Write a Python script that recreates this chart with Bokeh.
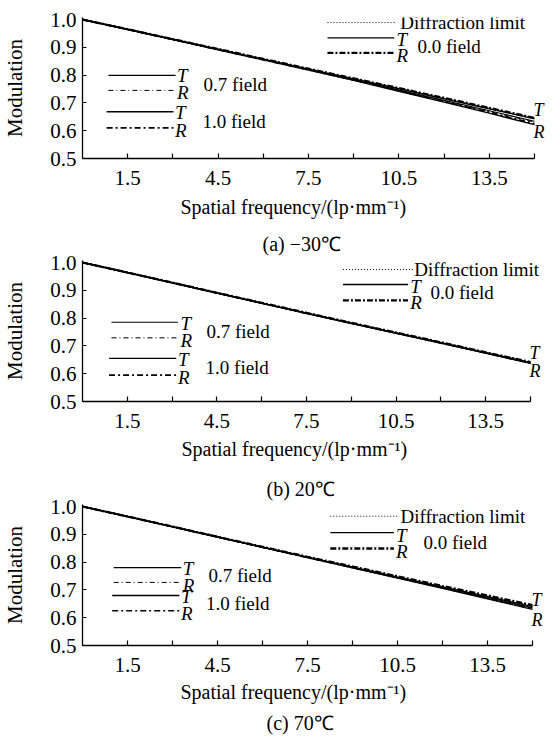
from bokeh.plotting import figure
from bokeh.layouts import column
from bokeh.models import FixedTicker, PrintfTickFormatter, Label, Range1d, Title
from bokeh.embed import file_html
from bokeh.resources import INLINE

# ---------------- data ----------------
freq = [0, 1.5, 3.0, 4.5, 6.0, 7.5, 9.0, 10.5, 12.0, 13.5, 15.0]

x_tick_labeled = [1.5, 4.5, 7.5, 10.5, 13.5]
x_tick_unlabeled = [3.0, 6.0, 9.0, 12.0, 15.0]
y_ticks = [0.5, 0.6, 0.7, 0.8, 0.9, 1.0]

x_title = "Spatial frequency/(lp\u00b7mm\u207b\u00b9)"
y_title = "Modulation"
captions = ["(a) \u221230\u2103", "(b) 20\u2103", "(c) 70\u2103"]

# (a) -30 C
diff_a = [1.000, 0.965, 0.929, 0.893, 0.858, 0.822, 0.787, 0.752, 0.717, 0.681, 0.645]
t00_a = [1.000, 0.965, 0.929, 0.893, 0.857, 0.821, 0.786, 0.751, 0.715, 0.679, 0.643]
r00_a = [1.000, 0.965, 0.929, 0.894, 0.858, 0.823, 0.788, 0.753, 0.718, 0.682, 0.646]
t07_a = [1.000, 0.964, 0.928, 0.892, 0.856, 0.820, 0.784, 0.746, 0.709, 0.672, 0.634]
r07_a = [1.000, 0.964, 0.928, 0.892, 0.856, 0.820, 0.783, 0.745, 0.707, 0.669, 0.631]
t10_a = [1.000, 0.964, 0.928, 0.891, 0.855, 0.818, 0.781, 0.742, 0.703, 0.663, 0.622]
r10_a = [1.000, 0.964, 0.928, 0.891, 0.855, 0.819, 0.782, 0.744, 0.705, 0.666, 0.626]

# (b) 20 C
diff_b = [1.000, 0.964, 0.928, 0.891, 0.855, 0.818, 0.783, 0.748, 0.713, 0.677, 0.641]
t00_b = [1.000, 0.964, 0.927, 0.891, 0.854, 0.818, 0.782, 0.747, 0.712, 0.676, 0.640]
r00_b = [1.000, 0.964, 0.928, 0.891, 0.855, 0.819, 0.783, 0.748, 0.713, 0.677, 0.642]
t07_b = [1.000, 0.964, 0.927, 0.890, 0.854, 0.817, 0.781, 0.746, 0.711, 0.675, 0.639]
r07_b = [1.000, 0.964, 0.927, 0.890, 0.854, 0.817, 0.782, 0.746, 0.711, 0.675, 0.638]
t10_b = [1.000, 0.964, 0.927, 0.890, 0.853, 0.817, 0.781, 0.745, 0.710, 0.674, 0.637]
r10_b = [1.000, 0.964, 0.927, 0.890, 0.854, 0.817, 0.781, 0.746, 0.710, 0.674, 0.638]

# (c) 70 C
diff_c = [1.000, 0.964, 0.928, 0.891, 0.855, 0.818, 0.783, 0.748, 0.713, 0.678, 0.643]
t00_c = [1.000, 0.964, 0.927, 0.891, 0.854, 0.818, 0.782, 0.746, 0.711, 0.676, 0.640]
r00_c = [1.000, 0.964, 0.928, 0.891, 0.855, 0.819, 0.784, 0.749, 0.714, 0.680, 0.645]
t07_c = [1.000, 0.964, 0.927, 0.890, 0.854, 0.817, 0.781, 0.745, 0.709, 0.673, 0.636]
r07_c = [1.000, 0.964, 0.927, 0.890, 0.853, 0.817, 0.780, 0.744, 0.708, 0.671, 0.634]
t10_c = [1.000, 0.964, 0.927, 0.890, 0.853, 0.816, 0.779, 0.743, 0.706, 0.668, 0.630]
r10_c = [1.000, 0.964, 0.927, 0.890, 0.853, 0.816, 0.780, 0.744, 0.707, 0.670, 0.632]

series = [
    dict(diff=diff_a, t00=t00_a, r00=r00_a, t07=t07_a, r07=r07_a, t10=t10_a, r10=r10_a),
    dict(diff=diff_b, t00=t00_b, r00=r00_b, t07=t07_b, r07=r07_b, t10=t10_b, r10=r10_b),
    dict(diff=diff_c, t00=t00_c, r00=r00_c, t07=t07_c, r07=r07_c, t10=t10_c, r10=r10_c),
]

# ---------------- styles ----------------
FONT = "Liberation Serif"
STY = {
    "diff": dict(line_width=1.0, line_dash="1 2"),
    "t00": dict(line_width=1.4, line_dash="solid"),
    "r00": dict(line_width=2.3, line_dash="6 2 2 2"),
    "t07": dict(line_width=1.1, line_dash="solid"),
    "r07": dict(line_width=1.0, line_dash="5 3 1 3"),
    "t10": dict(line_width=1.4, line_dash="solid"),
    "r10": dict(line_width=1.6, line_dash="6 3 2 3"),
}
DRAW_ORDER = ["t10", "r10", "t07", "r07", "t00", "diff", "r00"]

# layout per panel: frame geometry & legend placement (data units)
# Each panel's caption sits directly under its x-axis title; the captions of
# panels (a) and (b) are carried at the top of the following figure so that the
# stacked figures can sit as close together as in the original.
PANELS = [
    dict(left=73, fw=464, xend=15.40, top=17, fh=141, bottom=66,
         rl=dict(x0=8.13, x1=10.35, xd1=10.42, yd=0.989, yt=0.934, yr=0.880,
                 xtxt=10.55, xlab=10.42, ytl=0.928, yrl=0.871, xf=11.12, yf=0.904),
         ll=[dict(x0=0.86, x1=3.09, yt=0.799, yr=0.745, xlab=3.14, ytl=0.800, yrl=0.737,
                  xf=4.02, yf=0.766, txt="0.7 field", rs="r07", ts="t07"),
             dict(x0=0.80, x1=3.02, yt=0.668, yr=0.610, xlab=3.07, ytl=0.667, yrl=0.601,
                  xf=3.98, yf=0.634, txt="1.0 field", rs="r10", ts="t10")],
         tr=dict(x=14.97, yt=0.676, yr=0.594),
         xl=dict(off=98, so=12), cap=dict(off=180, so=12)),
    dict(left=73, fw=464, xend=15.536, top=36, fh=141, bottom=64,
         rl=dict(x0=8.72, x1=10.90, xd1=11.07, yd=0.975, yt=0.921, yr=0.864,
                 xtxt=11.11, xlab=10.97, ytl=0.912, yrl=0.856, xf=11.65, yf=0.892),
         ll=[dict(x0=0.97, x1=3.20, yt=0.785, yr=0.729, xlab=3.28, ytl=0.780, yrl=0.720,
                  xf=4.15, yf=0.753, txt="0.7 field", rs="r07", ts="t07"),
             dict(x0=0.89, x1=3.14, yt=0.655, yr=0.595, xlab=3.2, ytl=0.652, yrl=0.587,
                  xf=4.12, yf=0.621, txt="1.0 field", rs="r10", ts="t10")],
         tr=dict(x=14.97, yt=0.676, yr=0.609),
         xl=dict(off=99, so=10), cap=dict(off=184, so=9)),
    dict(left=74, fw=463, xend=15.433, top=39, fh=141, bottom=91,
         rl=dict(x0=8.26, x1=10.38, xd1=10.49, yd=0.965, yt=0.906, yr=0.849,
                 xtxt=10.6, xlab=10.45, ytl=0.897, yrl=0.838, xf=11.37, yf=0.872),
         ll=[dict(x0=1.04, x1=3.29, yt=0.780, yr=0.727, xlab=3.34, ytl=0.776, yrl=0.716,
                  xf=4.2, yf=0.753, txt="0.7 field", rs="r07", ts="t07"),
             dict(x0=0.99, x1=3.23, yt=0.680, yr=0.625, xlab=3.28, ytl=0.676, yrl=0.614,
                  xf=4.12, yf=0.652, txt="1.0 field", rs="r10", ts="t10")],
         tr=dict(x=14.97, yt=0.665, yr=0.590),
         xl=dict(off=98, so=9), cap=dict(off=184, so=5)),
]


def lbl(p, x, y, text, size="19px", style="normal", align="left"):
    p.add_layout(Label(x=x, y=y, text=text, text_font=FONT, text_font_size=size,
                       text_font_style=style, text_baseline="middle", text_align=align,
                       text_color="black"))


def seg(p, x0, x1, y, key):
    p.line([x0, x1], [y, y], line_color="black", **STY[key])


def title(text, off, so):
    return Title(text=text, align="left", offset=off, standoff=so, text_font=FONT,
                 text_font_size="20px", text_font_style="normal", text_color="black")


figs = []
for i, (cfg, data) in enumerate(zip(PANELS, series)):
    p = figure(frame_width=cfg["fw"], frame_height=cfg["fh"],
               min_border_left=cfg["left"], min_border_right=0,
               min_border_top=cfg["top"], min_border_bottom=cfg["bottom"],
               x_range=Range1d(0, cfg["xend"]), y_range=Range1d(0.5, 1.0072),
               output_backend="svg", toolbar_location=None)
    p.outline_line_color = None
    p.grid.visible = False
    p.background_fill_color = "white"
    p.border_fill_color = "white"

    for key in DRAW_ORDER:
        p.line(freq, data[key], line_color="black", **STY[key])

    # axes
    xa = p.xaxis[0]
    xa.ticker = FixedTicker(ticks=x_tick_labeled, minor_ticks=x_tick_unlabeled)
    xa.formatter = PrintfTickFormatter(format="%.1f")
    xa.bounds = (0, 15)
    xa.major_tick_in = 5
    xa.major_tick_out = 0
    xa.minor_tick_in = 5
    xa.minor_tick_out = 0
    xa.axis_line_width = 1.3
    xa.axis_line_color = "black"
    xa.major_tick_line_width = 1.2
    xa.minor_tick_line_width = 1.2
    xa.major_tick_line_color = "black"
    xa.minor_tick_line_color = "black"
    xa.major_label_text_font = FONT
    xa.major_label_text_font_size = "21px"
    xa.major_label_text_color = "black"
    xa.major_label_standoff = 12

    ya = p.yaxis[0]
    ya.ticker = FixedTicker(ticks=y_ticks)
    ya.formatter = PrintfTickFormatter(format="%.1f")
    ya.major_tick_in = 4
    ya.major_tick_out = 0
    ya.minor_tick_line_color = None
    ya.axis_line_width = 1.3
    ya.axis_line_color = "black"
    ya.major_tick_line_color = "black"
    ya.major_label_text_font = FONT
    ya.major_label_text_font_size = "21px"
    ya.major_label_text_color = "black"
    ya.major_label_standoff = 6
    ya.axis_label = y_title
    ya.axis_label_text_font = FONT
    ya.axis_label_text_font_size = "21px"
    ya.axis_label_text_font_style = "normal"
    ya.axis_label_text_color = "black"
    ya.axis_label_standoff = 20

    # x-axis title below the frame
    p.add_layout(title(x_title, cfg["xl"]["off"], cfg["xl"]["so"]), "below")
    # caption of the previous panel carried on top of this figure
    if i > 0:
        prev = PANELS[i - 1]["cap"]
        p.add_layout(title(captions[i - 1], prev["off"], prev["so"]), "above")
    # the last panel holds its own caption below
    if i == len(PANELS) - 1:
        p.add_layout(title(captions[i], cfg["cap"]["off"], cfg["cap"]["so"]), "below")

    # right legend (diffraction + 0.0 field)
    rl = cfg["rl"]
    seg(p, rl["x0"], rl["xd1"], rl["yd"], "diff")
    seg(p, rl["x0"], rl["x1"], rl["yt"], "t00")
    seg(p, rl["x0"], rl["x1"], rl["yr"], "r00")
    lbl(p, rl["xtxt"], rl["yd"], "Diffraction limit")
    lbl(p, rl["xlab"], rl["ytl"], "T", style="italic")
    lbl(p, rl["xlab"], rl["yrl"], "R", style="italic")
    lbl(p, rl["xf"], rl["yf"], "0.0 field")

    # left legend (0.7 / 1.0 field)
    for ll in cfg["ll"]:
        seg(p, ll["x0"], ll["x1"], ll["yt"], ll["ts"])
        seg(p, ll["x0"], ll["x1"], ll["yr"], ll["rs"])
        lbl(p, ll["xlab"], ll["ytl"], "T", style="italic")
        lbl(p, ll["xlab"], ll["yrl"], "R", style="italic")
        lbl(p, ll["xf"], ll["yf"], ll["txt"])

    # T / R labels at the curve ends
    tr = cfg["tr"]
    lbl(p, tr["x"], tr["yt"], "T", size="18px", style="italic")
    lbl(p, tr["x"], tr["yr"], "R", size="18px", style="italic")

    figs.append(p)

layout = column(*figs, spacing=0)
open("out.html", "w").write(file_html(layout, INLINE))
